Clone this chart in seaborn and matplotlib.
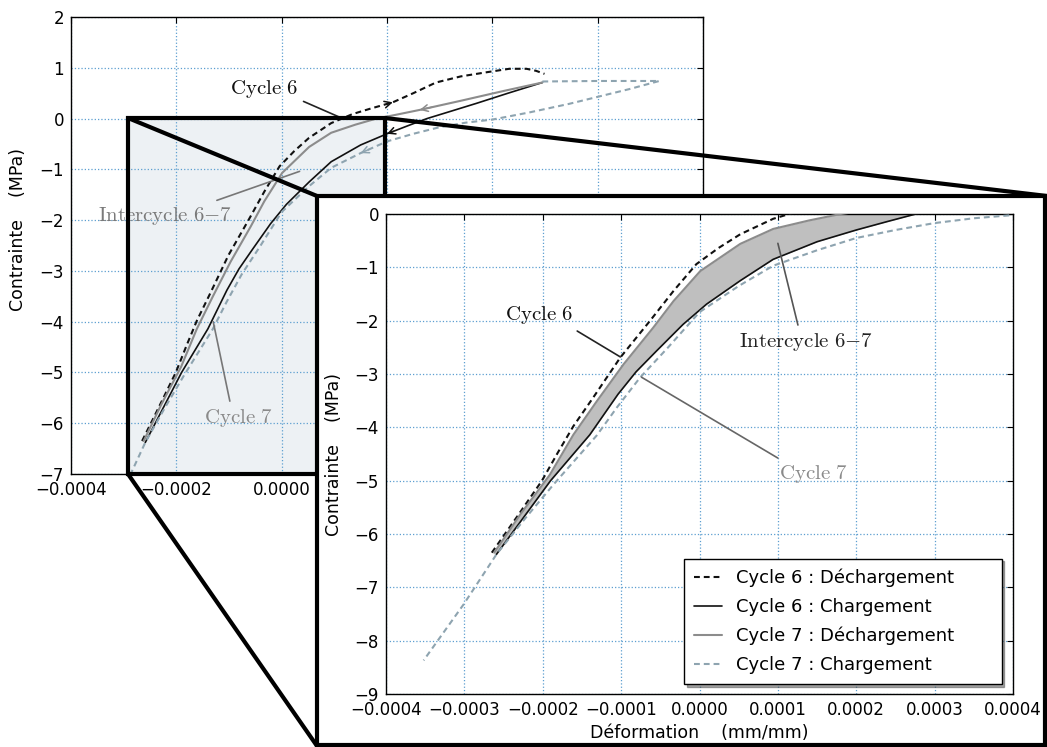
import numpy as np
import matplotlib.pyplot as plt
import seaborn as sns
from matplotlib.patches import Rectangle
from matplotlib.lines import Line2D
from matplotlib.ticker import FuncFormatter, MultipleLocator

# Cycle 6 : déchargement (noir, tirets)
c6_dech_x = [-0.000265, -0.000233, -0.000201, -0.000181, -0.000161, -0.000136, -0.000101,
             -0.000063, -0.000033, -0.000004, 0.000024, 0.000052, 0.000094, 0.000135,
             0.000170, 0.000211, 0.000250, 0.000293, 0.000340, 0.000388, 0.000432,
             0.000465, 0.000483, 0.000499]
c6_dech_y = [-6.35, -5.68, -5.00, -4.48, -3.98, -3.45, -2.69, -2.00, -1.44, -0.94, -0.64,
             -0.38, -0.09, 0.09, 0.20, 0.32, 0.50, 0.71, 0.83, 0.91, 0.98, 0.98, 0.94, 0.88]

# Cycle 6 : chargement (noir, continu)
c6_ch_x = [0.000495, 0.000430, 0.000370, 0.000320, 0.000276, 0.000240, 0.000200, 0.000150,
           0.000094, 0.000052, 0.000009, -0.000021, -0.000055, -0.000081, -0.000104,
           -0.000140, -0.000190, -0.000225, -0.000259]
c6_ch_y = [0.71, 0.50, 0.30, 0.14, 0.00, -0.14, -0.30, -0.52, -0.85, -1.25, -1.69, -2.07,
           -2.57, -2.96, -3.38, -4.14, -5.00, -5.70, -6.38]

# Cycle 7 : déchargement (gris, continu)
c7_dech_x = [0.000495, 0.000420, 0.000340, 0.000262, 0.000215, 0.000180, 0.000140, 0.000094,
             0.000052, 0.000001, -0.000033, -0.000059, -0.000097, -0.000131, -0.000161,
             -0.000191, -0.000228, -0.000262]
c7_dech_y = [0.71, 0.54, 0.35, 0.17, 0.07, 0.00, -0.12, -0.28, -0.56, -1.07, -1.63, -2.13,
             -2.82, -3.51, -4.14, -4.89, -5.62, -6.35]

# Cycle 7 : chargement (gris clair, tirets)
c7_ch_x = [0.000495, 0.000600, 0.000717, 0.000660, 0.000597, 0.000546, 0.000470, 0.000400,
           0.000350, 0.000300, 0.000250, 0.000200, 0.000150, 0.000094, 0.000050, 0.000000,
           -0.000040, -0.000076, -0.000105, -0.000131, -0.000158, -0.000185, -0.000222,
           -0.000259, -0.000301, -0.000352]
c7_ch_y = [0.73, 0.74, 0.74, 0.58, 0.42, 0.29, 0.12, -0.02, -0.08, -0.17, -0.30, -0.45,
           -0.68, -0.97, -1.35, -1.84, -2.50, -3.07, -3.62, -4.15, -4.60, -5.05, -5.70,
           -6.38, -7.32, -8.37]

labels = ["Cycle 6 : Déchargement", "Cycle 6 : Chargement",
          "Cycle 7 : Déchargement", "Cycle 7 : Chargement"]

# indices des points où l'on met une flèche de sens de parcours
idx_fleches = [15, 6, 3, 12]

courbes = [
    (c6_dech_x, c6_dech_y, "#111111", (0, (2.8, 1.9)), 1.5),
    (c6_ch_x, c6_ch_y, "#111111", "-", 1.2),
    (c7_dech_x, c7_dech_y, "#8c8c8c", "-", 1.5),
    (c7_ch_x, c7_ch_y, "#8ea4b0", (0, (2.8, 1.9)), 1.5),
]

sns.set_style("whitegrid")
plt.rcParams["font.family"] = ["DejaVu Sans"]
plt.rcParams["mathtext.fontset"] = "cm"
plt.rcParams["grid.linestyle"] = ":"
plt.rcParams["grid.color"] = "#5c9fd0"
plt.rcParams["grid.linewidth"] = 0.9
plt.rcParams["axes.edgecolor"] = "black"
plt.rcParams["axes.linewidth"] = 1.0
plt.rcParams["text.color"] = "black"
plt.rcParams["axes.labelcolor"] = "black"

W, H = 1047, 747
fig = plt.figure(figsize=(W / 100, H / 100), dpi=100)


def fx(x):
    return x / W


def fy(y):
    return 1 - y / H


fmt_x = FuncFormatter(lambda v, p: f"{v:.4f}".replace("-", "\u2212"))
# sur le graphe principal, les étiquettes à droite de 0 sont cachées par le zoom
fmt_x1 = FuncFormatter(lambda v, p: f"{v:.4f}".replace("-", "\u2212") if v < 1e-9 else "")


def style_axes(ax, pas, fmt):
    ax.tick_params(direction="in", length=4, width=0.8, top=True, right=True,
                   labelsize=12, pad=5, colors="black")
    ax.xaxis.set_major_locator(MultipleLocator(pas))
    ax.xaxis.set_major_formatter(fmt)
    ax.yaxis.set_major_locator(MultipleLocator(1))
    for s in ax.spines.values():
        s.set_color("black")
        s.set_linewidth(1.0)


# Graphe principal
ax1 = fig.add_axes([fx(71), fy(474), (703 - 71) / W, (474 - 17) / H])
# Zoom
ax2 = fig.add_axes([fx(386), fy(694), (1013 - 386) / W, (694 - 214) / H], zorder=4)

for ax in (ax1, ax2):
    for (x, y, c, ls, lw), lab in zip(courbes, labels):
        sns.lineplot(x=x, y=y, sort=False, estimator=None, ax=ax, color=c,
                     linestyle=ls, linewidth=lw, label=lab, legend=False, zorder=3)

style_axes(ax1, 0.0002, fmt_x1)
style_axes(ax2, 0.0001, fmt_x)
ax1.set_xlim(-0.0004, 0.0008)
ax1.set_ylim(-7, 2)
ax2.set_xlim(-0.0004, 0.0004)
ax2.set_ylim(-9, 0)

# zone grisée entre les cycles (zoom)
yy = np.linspace(min(c6_ch_y[-1], c7_dech_y[-1]), 0.05, 300)
x_haut = np.interp(yy, c7_dech_y[::-1], c7_dech_x[::-1])
x_bas = np.interp(yy, c6_ch_y[::-1], c6_ch_x[::-1])
ax2.fill_betweenx(yy, x_haut, x_bas, color="#bfbfbf", zorder=2, linewidth=0)

# petites flèches de sens de parcours (graphe principal)
for (x, y, c, ls, lw), i in zip(courbes, idx_fleches):
    x0, y0 = x[i] + 0.3 * (x[i - 1] - x[i]), y[i] + 0.3 * (y[i - 1] - y[i])
    ax1.annotate("", xy=(x[i], y[i]), xytext=(x0, y0),
                 arrowprops=dict(arrowstyle="->", color=c, lw=1.1, shrinkA=0, shrinkB=0,
                                 mutation_scale=12), zorder=4)

# annotations
cm6 = r"$\mathrm{Cycle\ 6}$"
cm7 = r"$\mathrm{Cycle\ 7}$"
cmi = r"$\mathrm{Intercycle\ 6{-}7}$"


def note(ax, txt, xy, xytext, col, lcol, rel):
    ax.annotate(txt, xy=xy, xytext=xytext, ha="center", va="center", fontsize=15,
                color=col, zorder=5,
                arrowprops=dict(arrowstyle="-", color=lcol, lw=1.2, relpos=rel,
                                shrinkA=2, shrinkB=0))


note(ax1, cm6, (0.000116, 0.0), (-0.000034, 0.59), "#111111", "#222222", (0.95, 0.1))
note(ax1, cmi, (0.000034, -1.04), (-0.000222, -1.91), "#7a7a7a", "#777777", (0.8, 1.0))
note(ax1, cm7, (-0.00013, -4.0), (-0.000083, -5.9), "#8a8a8a", "#777777", (0.4, 1.0))
note(ax2, cm6, (-0.000101, -2.68), (-0.000205, -1.90), "#111111", "#222222", (0.95, 0.0))
note(ax2, cmi, (0.000100, -0.55), (0.000136, -2.40), "#222222", "#555555", (0.45, 1.0))
note(ax2, cm7, (-0.000074, -3.06), (0.000145, -4.87), "#8a8a8a", "#666666", (0.1, 1.0))

# étiquettes des axes
ax1.set_ylabel("Contrainte    (MPa)", fontsize=12.5, color="black")
ax1.yaxis.set_label_coords(-0.0696, 0.535)
ax1.set_xlabel("")
ax2.set_ylabel("Contrainte    (MPa)", fontsize=12.5, color="black")
ax2.yaxis.set_label_coords(-0.0686, 0.5)
ax2.set_xlabel("Déformation    (mm/mm)", fontsize=12.5, color="black")
ax2.xaxis.set_label_coords(0.5, -0.0625)

leg = ax2.legend(loc="lower right", bbox_to_anchor=(0.475, 0.021, 0.507, 0.3),
                 mode="expand", borderaxespad=0, fontsize=13, frameon=True,
                 fancybox=False, shadow=True, edgecolor="black", framealpha=1,
                 handlelength=1.55, labelspacing=0.6, borderpad=0.55)
leg.get_frame().set_linewidth(1.0)
for t in leg.get_texts():
    t.set_color("black")

# zone agrandie + cadre du zoom
ax1.add_patch(Rectangle((fx(128), fy(474)), (385 - 128) / W, (474 - 118) / H,
                        transform=fig.transFigure, facecolor="#edf1f4", edgecolor="none",
                        zorder=0.3, clip_on=False))
fig.add_artist(Rectangle((fx(128), fy(474)), (385 - 128) / W, (474 - 118) / H,
                         transform=fig.transFigure, facecolor="none", edgecolor="black",
                         lw=3, zorder=2))
for (xa, ya), (xb, yb) in [((128, 118), (317, 196)), ((385, 118), (1047, 196)),
                           ((128, 474), (317, 746))]:
    fig.add_artist(Line2D([fx(xa), fx(xb)], [fy(ya), fy(yb)], transform=fig.transFigure,
                          color="black", lw=3, zorder=2, solid_capstyle="round"))
fig.add_artist(Rectangle((fx(317), fy(745)), (1045 - 317) / W, (745 - 196) / H,
                         transform=fig.transFigure, facecolor="white", edgecolor="black",
                         lw=3, zorder=3))

fig.savefig("out.png", dpi=100)
